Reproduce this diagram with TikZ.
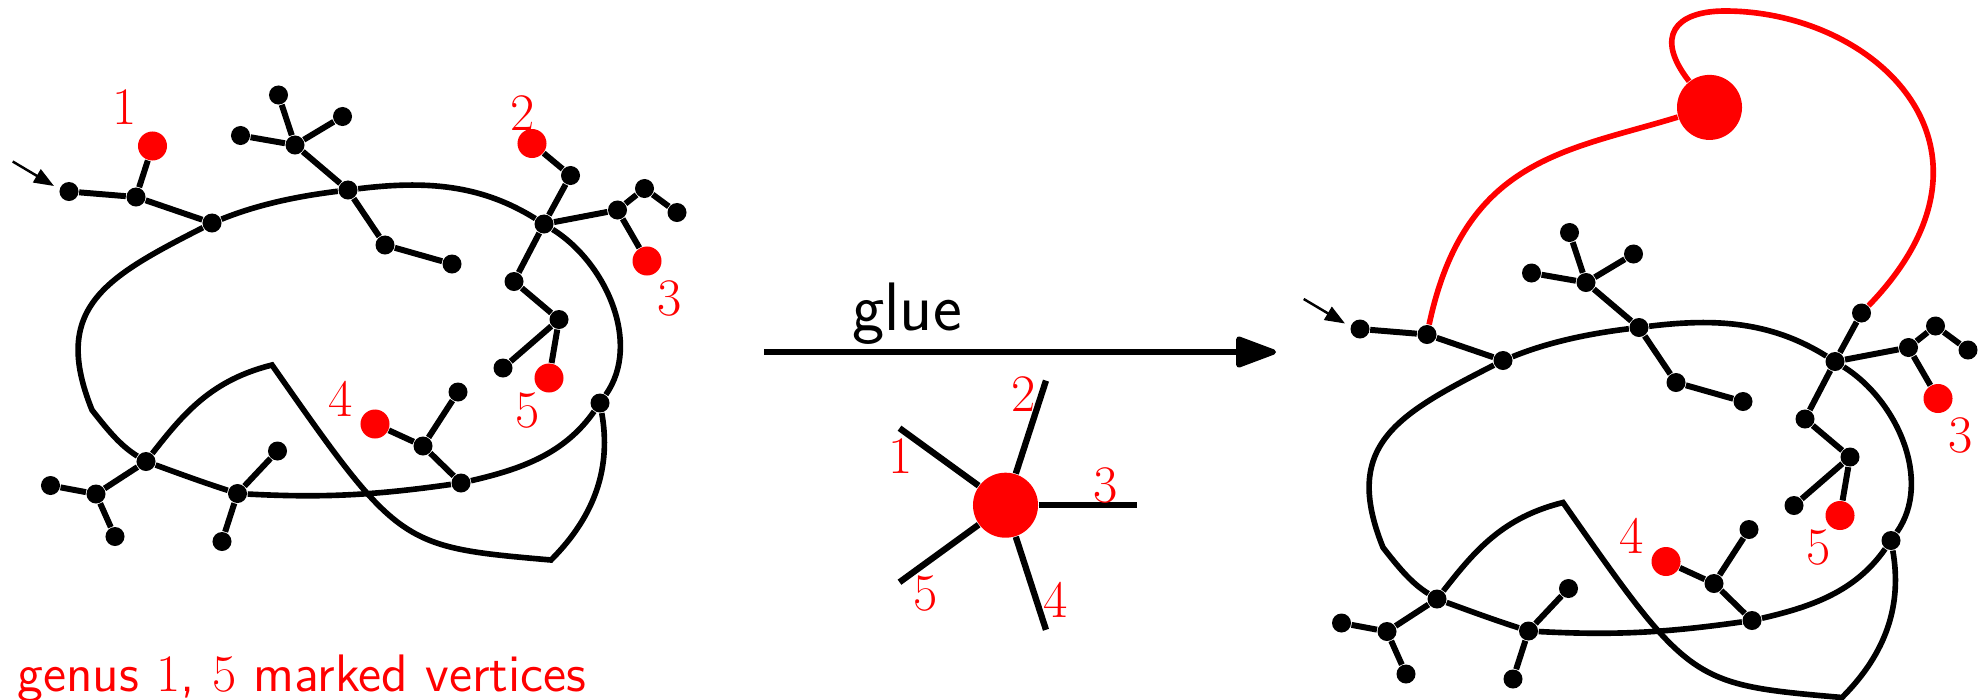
\documentclass[tikz,border=0pt]{standalone}
\usepackage{tikz}
\usetikzlibrary{arrows.meta}
\tikzset{
	vertex/.style={circle, fill=black, inner sep=0pt, minimum size=1.9mm},
	marked/.style={circle, fill=red, inner sep=0pt, minimum size=2.9mm},
	bigmarked/.style={circle, fill=red, inner sep=0pt, minimum size=6.5mm},
	branch/.style={line width=1.7pt},
	loopline/.style={line width=1.6pt},
	pointer/.style={line width=0.7pt, -{Triangle[length=2mm, width=1.5mm]}},
	mlabel/.style={text=red, inner sep=0pt, font=\fontsize{15}{18}\selectfont},
	pics/basegraph/.style={code={
		\coordinate (-pin) at (12.7,537.5);
		\coordinate (-pout) at (54,513);
		\draw[pointer] (-pin) -- (-pout);
		
		\node[vertex] (-a0) at (69,507.5) {};
		\node[vertex] (-a1) at (136,502) {};
		\node[vertex] (-a2) at (212,476) {};
		\node[vertex] (-t1) at (348,509) {};
		\node[vertex] (-t2) at (385,454) {};
		\node[vertex] (-t3) at (452,435) {};
		\node[vertex] (-u0) at (295,554) {};
		\node[vertex] (-u1) at (240.5,563.5) {};
		\node[vertex] (-u2) at (278.5,604) {};
		\node[vertex] (-u3) at (342.5,582.5) {};
		\node[vertex] (-h0) at (544,475) {};
		\node[vertex] (-h1) at (570.5,523.5) {};
		\node[vertex] (-h2) at (617.5,489) {};
		\node[vertex] (-h3) at (644.5,510.5) {};
		\node[vertex] (-h4) at (677,486.5) {};
		\node[vertex] (-h5) at (514,417.5) {};
		\node[vertex] (-h6) at (559,379.5) {};
		\node[vertex] (-h7) at (503,331) {};
		\node[vertex] (-v0) at (600,296) {};
		\node[vertex] (-b0) at (461,216) {};
		\node[vertex] (-b1) at (423,253) {};
		\node[vertex] (-b2) at (458,307) {};
		\node[vertex] (-c0) at (237.5,205.5) {};
		\node[vertex] (-c1) at (277.5,248) {};
		\node[vertex] (-c2) at (222,157.5) {};
		\node[vertex] (-d0) at (146,237.5) {};
		\node[vertex] (-d1) at (96,205) {};
		\node[vertex] (-d2) at (50.5,213.5) {};
		\node[vertex] (-d3) at (115,162.5) {};
		\node[marked] (-m3) at (647,438) {};
		\node[marked] (-m4) at (375,275) {};
		\node[marked] (-m5) at (549,321) {};
		\coordinate (-k1) at (92,289);
		\coordinate (-k2) at (272,334);
		\coordinate (-k3) at (551,139);
		
		\node[mlabel] (-l3) at (669.5,400.7) {3};
		\node[mlabel] (-l4) at (341,300.5) {4};
		\node[mlabel] (-l5) at (527.5,288.5) {5};
		
		\draw[branch] (-a0) -- (-a1) -- (-a2);
		\draw[branch] (-t1) -- (-u0);
		\draw[branch] (-u0) -- (-u1);
		\draw[branch] (-u0) -- (-u2);
		\draw[branch] (-u0) -- (-u3);
		\draw[branch] (-t1) -- (-t2) -- (-t3);
		\draw[branch] (-h0) -- (-h1);
		\draw[branch] (-h0) -- (-h2) -- (-h3) -- (-h4);
		\draw[branch] (-h2) -- (-m3);
		\draw[branch] (-h0) -- (-h5) -- (-h6) -- (-h7);
		\draw[branch] (-h6) -- (-m5);
		\draw[branch] (-b0) -- (-b1) -- (-m4);
		\draw[branch] (-b1) -- (-b2);
		\draw[branch] (-c0) -- (-c1);
		\draw[branch] (-c0) -- (-c2);
		\draw[branch] (-d0) -- (-d1) -- (-d2);
		\draw[branch] (-d1) -- (-d3);
		
		\draw[loopline] (-a2) .. controls +(22:50) and +(187:50) .. (-t1)
		.. controls +(7:78) and +(148:75) .. (-h0)
		.. controls +(-32:73) and +(55:73) .. (-v0)
		.. controls +(235:62) and +(13:62) .. (-b0)
		.. controls +(188:87) and +(-3:87) .. (-c0)
		.. controls +(162:38) and +(-20:38) .. (-d0)
		.. controls +(148:29) and +(-52:29) .. (-k1)
		.. controls +(112:110) and +(207:120) .. (-a2);
		\draw[loopline] (-d0) .. controls +(52:62) and +(194:62) .. (-k2)
		.. controls +(-55:222) and +(175:152) .. (-k3)
		.. controls +(45:64) and +(-80:64) .. (-v0);
	}}
}

\begin{document}
\begin{tikzpicture}[
		x=0.01cm, y=0.01cm,
		spoke/.style={line width=1.8pt},
		gluedline/.style={red, line width=1.6pt},
		gluearrow/.style={line width=1.5pt, -{Triangle[length=4.5mm, width=3.2mm, round]}},
		gluetext/.style={inner sep=0pt, font=\fontsize{19.5}{23}\selectfont\sffamily},
		caption/.style={text=red, inner sep=0pt, font=\fontsize{15}{18}\selectfont\sffamily}
		]
		\useasboundingbox (0,0) rectangle (1985,699);
		
		\pic (L) at (0,0) {basegraph};
		\node[marked] (r1) at (152.5,553) {};
		\node[marked] (r2) at (532,555.5) {};
		\draw[branch] (L-a1) -- (r1);
		\draw[branch] (L-h1) -- (r2);
		\node[mlabel] (l1) at (125,591.5) {1};
		\node[mlabel] (l2) at (522.5,585.5) {2};
		\node[caption, anchor=base west] (genus) at (17,7.3) {genus \textrm{1}, \textrm{5} marked vertices};
		
		\coordinate (gluestart) at (764,347);
		\coordinate (glueend) at (1276,347);
		\draw[gluearrow] (gluestart) -- (glueend);
		\node[gluetext, anchor=base] (glue) at (907,369) {glue};
		
		\node[bigmarked] (star) at (1005.5,193.8) {};
		\foreach \i/\a/\b/\r in {1/144/155/116, 2/72/81/113, 3/0/11/102, 4/-72/-62/107, 5/-144/-132/119} {
			\path (star.center) ++(\a:131) coordinate (spoke\i);
			\draw[spoke] (star) -- (spoke\i);
			\path (star.center) ++(\b:\r) node[mlabel] (sl\i) {\i};
		}
		
		\pic (R) at (1291,-137.5) {basegraph};
		\node[bigmarked] (glued) at (1709.5,591.6) {};
		\coordinate (looptop) at (1725,688);
		\draw[gluedline] (R-a1) .. controls +(78:180) and +(197:150) .. (glued);
		\draw[gluedline] (glued) .. controls +(128:90) and +(180:50) .. (looptop)
		.. controls +(0:150) and +(46:230) .. (R-h1);
		
	\end{tikzpicture}
\end{document}
